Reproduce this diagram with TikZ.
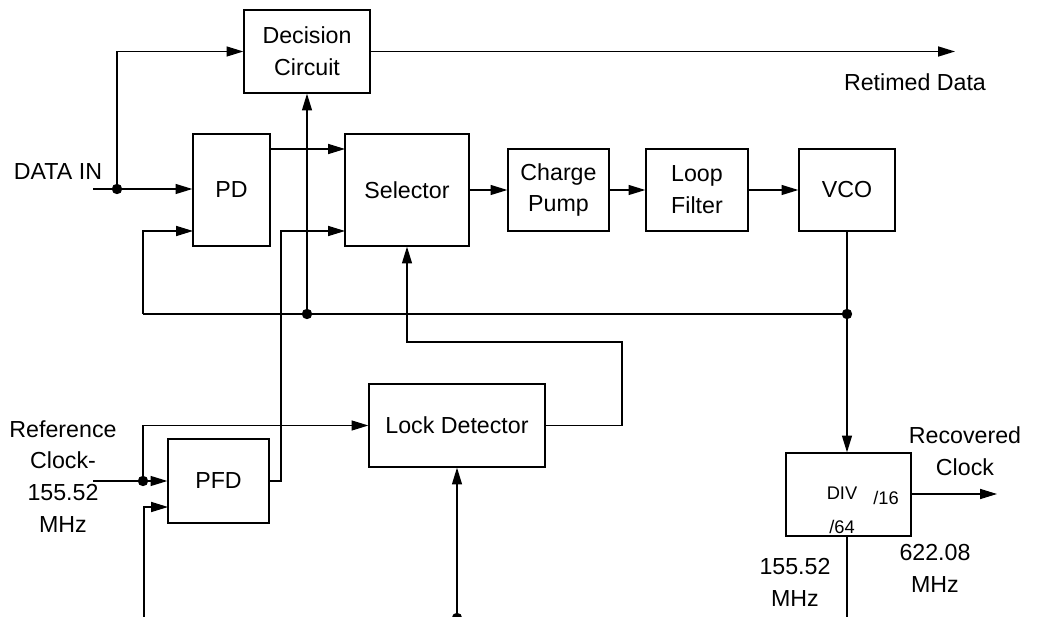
\documentclass[tikz,border=0pt]{standalone}
\usepackage{fontspec}
\setmainfont{Liberation Sans}
\usetikzlibrary{arrows.meta, positioning, calc}

\begin{document}
\begin{tikzpicture}[
    x=0.025cm, y=-0.025cm,
    font=\fontsize{16.5}{22.7}\selectfont,
    box/.style={rectangle, draw=black, line width=0.9pt, inner sep=0pt, align=center},
    arr/.style={-{Triangle[length=4.2mm, width=2.5mm]}, line width=0.9pt},
    wire/.style={line width=0.9pt},
    junc/.style={circle, fill=black, inner sep=0pt, minimum size=2.6mm},
    lbl/.style={align=center, inner sep=0pt},
    small/.style={inner sep=0pt, font=\fontsize{13}{14}\selectfont}
]
    \useasboundingbox (0,0) rectangle (1042,617);

    % Blocks
    \node[box, minimum width=3.15cm, minimum height=2.075cm] (dec) at (307,51.5) {Decision\\Circuit};
    \node[box, minimum width=1.925cm, minimum height=2.8cm] (pd) at (231.5,190) {PD};
    \node[box, minimum width=3.1cm, minimum height=2.8cm] (sel) at (407,190) {Selector};
    \node[box, minimum width=2.525cm, minimum height=2.05cm] (cp) at (558.5,190) {Charge\\Pump};
    \node[box, minimum width=2.55cm, minimum height=2.05cm] (lf) at (697,190) {Loop\\Filter};
    \node[box, minimum width=2.4cm, minimum height=2.05cm] (vco) at (847,190) {VCO};
    \node[box, minimum width=4.4cm, minimum height=2.075cm] (lock) at (457,425.5) {Lock Detector};
    \node[box, minimum width=2.525cm, minimum height=2.1cm] (pfd) at (218.5,481) {PFD};
    \node[box, minimum width=3.125cm, minimum height=2.075cm] (div) at (848.5,494.5) {};

    % Divider texts
    \node[small] (divt) at (842,493) {DIV};
    \node[small] (d16) at (886,498) {/16};
    \node[small] (d64) at (842,527) {/64};

    % Labels
    \node[lbl] (dinl) at (58,172) {DATA IN};
    \node[lbl] (rdl) at (915,82) {Retimed Data};
    \node[lbl] (refl) at (63,476.5) {Reference\\Clock-\\155.52\\MHz};
    \node[lbl] (recl) at (965,451) {Recovered\\Clock};
    \node[lbl] (f1) at (795,582) {155.52\\MHz};
    \node[lbl] (f2) at (935,568) {622.08\\MHz};

    % Data input
    \coordinate (din) at (93,189);
    \node[junc] (j1) at (117,189) {};
    \draw[wire] (din) -- (j1);
    \draw[arr] (j1) -- (pd.west |- j1);
    \draw[arr] (j1) |- (dec.west);
    \coordinate (rd) at (955,51.5);
    \draw[arr] (dec.east) -- (rd);

    % PD and PFD into selector
    \coordinate (s1) at (345,149);
    \coordinate (s2) at (345,231);
    \coordinate (pfdup) at (281,231);
    \draw[arr] (pd.east |- s1) -- (s1);
    \draw[arr] (pfd.east) -| (pfdup) -- (s2);

    % Forward path
    \draw[arr] (sel.east) -- (cp.west);
    \draw[arr] (cp.east) -- (lf.west);
    \draw[arr] (lf.east) -- (vco.west);

    % Feedback bus
    \node[junc] (j2) at (307,314) {};
    \node[junc] (j3) at (847,314) {};
    \coordinate (fbl) at (143,314);
    \coordinate (pdb) at (193,231);
    \draw[wire] (vco.south) -- (j3);
    \draw[arr] (j3) -- (div.north -| j3);
    \draw[wire] (j3) -- (j2) -- (fbl);
    \draw[arr] (j2) -- (dec.south);
    \draw[arr] (fbl) |- (pdb);

    % Lock detector output
    \coordinate (lk1) at (622,425.5);
    \coordinate (lk2) at (622,342);
    \draw[arr] (lock.east) -- (lk1) -- (lk2) -| (sel.south);

    % Reference clock
    \coordinate (rc) at (93,481);
    \node[junc] (j4) at (143,481) {};
    \coordinate (p2) at (168,507);
    \coordinate (b1) at (144,625);
    \draw[wire] (rc) -- (j4);
    \draw[arr] (j4) -- (pfd.west);
    \draw[arr] (j4) |- (lock.west);
    \draw[arr] (b1) |- (p2);

    % Lock detector lower input
    \node[junc] (j5) at (457,618) {};
    \draw[arr] (j5) -- (lock.south);

    % Divider outputs
    \coordinate (rco) at (997,494);
    \coordinate (dvb) at (847,625);
    \draw[arr] (div.east |- rco) -- (rco);
    \draw[wire] (div.south -| dvb) -- (dvb);
\end{tikzpicture}
\end{document}
